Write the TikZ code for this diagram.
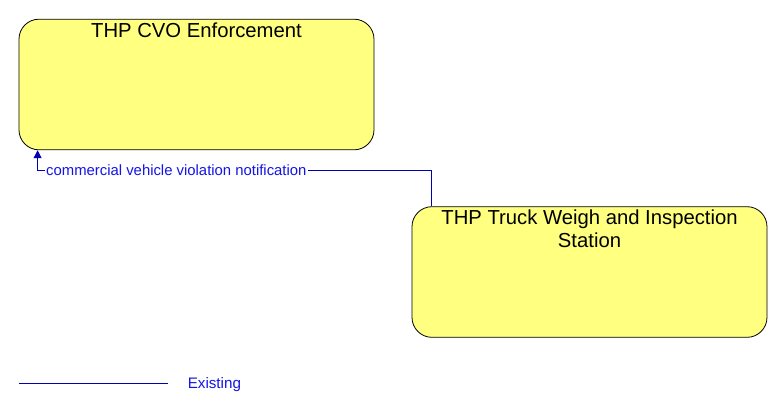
\documentclass[tikz,border=0pt]{standalone}
\usepackage{fontspec}
\setmainfont{Liberation Sans}
\usetikzlibrary{arrows.meta}
\definecolor{boxfill}{RGB}{255,255,128}
\definecolor{flowblue}{RGB}{0,0,176}
\definecolor{textblue}{RGB}{20,20,230}
\begin{document}
\begin{tikzpicture}[x=0.75pt,y=-0.75pt,
  entity/.style={draw=black, fill=boxfill, rounded corners=15pt, minimum width=266.25pt, minimum height=98pt, inner sep=0pt, line width=0.6pt},
  title/.style={anchor=north, font=\fontsize{15.2pt}{17.3pt}\selectfont, align=center, inner sep=0pt},
  flow/.style={draw=flowblue, line width=0.75pt, -{Triangle[length=6pt,width=6pt]}},
  flowlabel/.style={font=\fontsize{11.15pt}{13pt}\selectfont, text=textblue, fill=white, inner sep=1pt, anchor=west}]
\useasboundingbox (0,0) rectangle (783,412);
\node[entity] (cvo) at (196.5,84.5) {};
\node[title] (cvot) at ([yshift=-3pt]cvo.north) {THP CVO Enforcement};
\node[entity] (tws) at (589.5,272) {};
\node[title] (twst) at ([yshift=-2.5pt]tws.north) {THP Truck Weigh and Inspection\\Station};
\coordinate (s) at ([xshift=15pt]tws.north west);
\coordinate (e) at ([xshift=14.25pt]cvo.south west);
\coordinate (bend1) at (s |- 0,170);
\coordinate (bend2) at (e |- 0,170);
\draw[flow] (s) -- (bend1) -- (bend2) -- (e);
\node[flowlabel] (lbl) at ([xshift=5.25pt]bend2) {commercial vehicle violation notification};
\coordinate (l1) at (19,383);
\coordinate (l2) at (168,383);
\draw[draw=flowblue, line width=0.75pt] (l1) -- (l2);
\node[font=\fontsize{11.4pt}{13pt}\selectfont, text=textblue, anchor=west, inner sep=0pt] (leg) at (187.5,384.5) {Existing};
\end{tikzpicture}
\end{document}
